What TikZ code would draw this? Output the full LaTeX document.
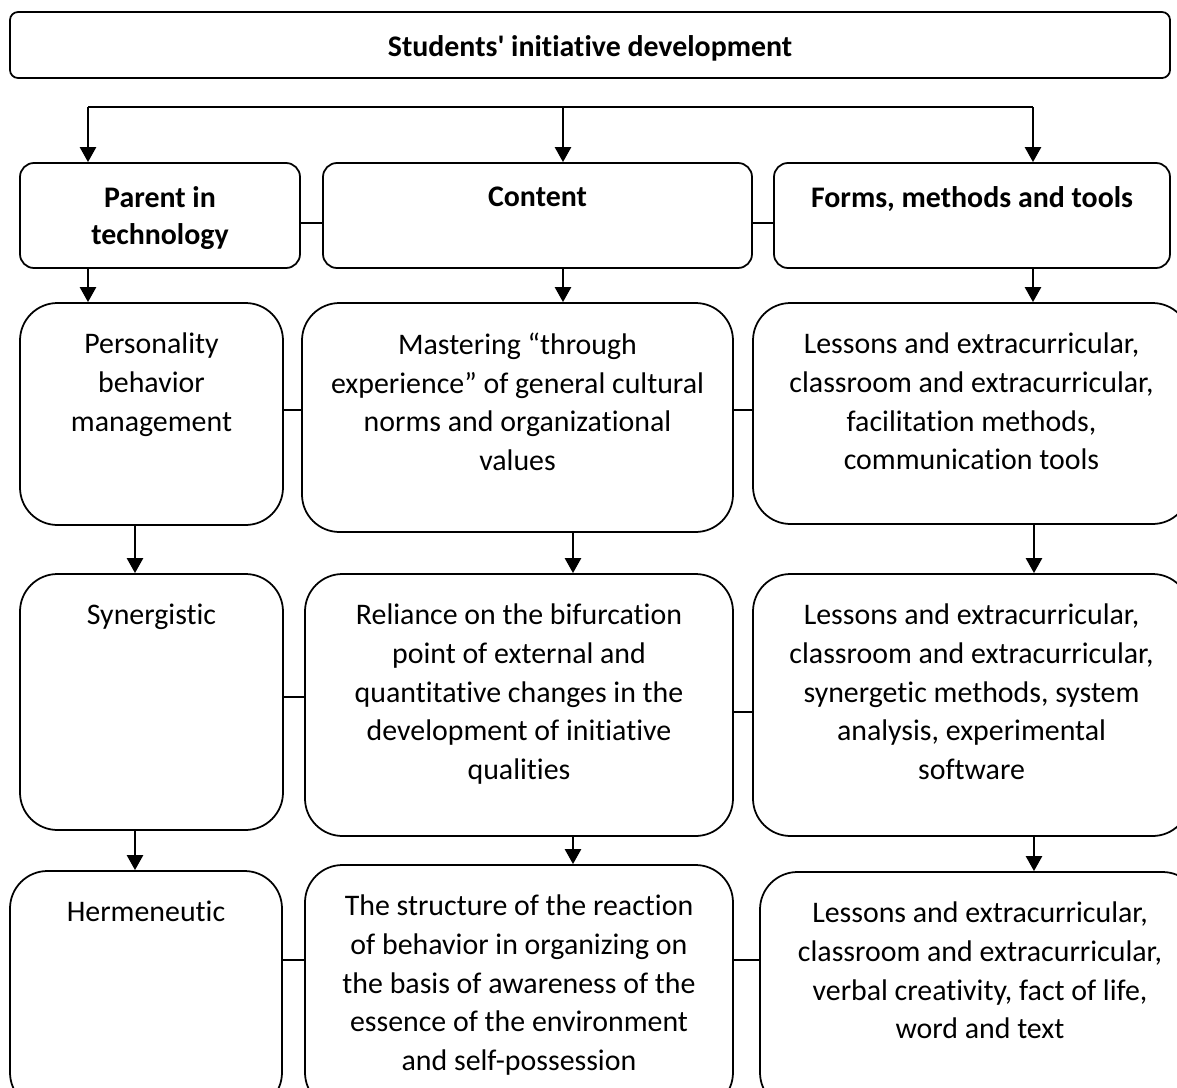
\documentclass[tikz,border=0pt]{standalone}
\usepackage{fontspec}
\setmainfont{Carlito}[Ligatures={NoCommon}]
\usepackage{tikz}
\usetikzlibrary{arrows.meta, positioning, calc}

\begin{document}
\begin{tikzpicture}
            [line width=1pt, font=\fontsize{17}{22}\selectfont,
            arr/.style={-{Triangle[length=0.3cm,width=0.32cm]}, line width=1.4pt},
            topbox/.style={rectangle, draw=black, rounded corners=0.16cm, inner sep=0pt},
            headbox/.style={rectangle, draw=black, rounded corners=0.28cm, inner sep=0pt},
            box/.style={rectangle, draw=black, rounded corners=0.75cm, inner sep=0pt},
            txt/.style={align=center, inner sep=0pt},
            headtxt/.style={txt, font=\fontsize{17}{21}\selectfont\bfseries}]
            \clip (0,0) rectangle (23.54,-21.76);
            \useasboundingbox (0,0) rectangle (23.54,-21.76);
            % top
            \node[topbox, minimum width=23.2cm, minimum height=1.32cm] (T) at (11.8,-0.9) {};
            \node[headtxt, yshift=-0.06cm] (tT) at (T) {Students\textquotesingle{} initiative development};
            % headers
            \node[headbox, minimum width=5.6cm, minimum height=2.1cm] (H1) at (3.2,-4.31) {};
            \node[headbox, minimum width=8.58cm, minimum height=2.1cm] (H2) at (10.75,-4.31) {};
            \node[headbox, minimum width=7.92cm, minimum height=2.1cm] (H3) at (19.44,-4.31) {};
            \node[headtxt, below=0.48cm of H1.north] (tH1) {Parent in\\technology};
            \node[headtxt, below=0.48cm of H2.north] (tH2) {Content};
            \node[headtxt, below=0.48cm of H3.north] (tH3) {Forms, methods and tools};
            % second row
            \node[box, minimum width=5.26cm, minimum height=4.44cm] (A1) at (3.03,-8.28) {};
            \node[box, minimum width=8.62cm, minimum height=4.58cm] (A2) at (10.35,-8.35) {};
            \node[box, minimum width=8.74cm, minimum height=4.42cm] (A3) at (19.43,-8.27) {};
            \node[txt, below=0.6cm of A1.north] (tA1) {Personality\\behavior\\management};
            \node[txt, below=0.6cm of A2.north] (tA2) {Mastering “through\\experience” of general cultural\\norms and organizational\\values};
            \node[txt, below=0.6cm of A3.north] (tA3) {Lessons and extracurricular,\\classroom and extracurricular,\\facilitation methods,\\communication tools};
            % third row
            \node[box, minimum width=5.26cm, minimum height=5.12cm] (B1) at (3.03,-14.04) {};
            \node[box, minimum width=8.56cm, minimum height=5.24cm] (B2) at (10.38,-14.1) {};
            \node[box, minimum width=8.74cm, minimum height=5.24cm] (B3) at (19.43,-14.1) {};
            \node[txt, below=0.6cm of B1.north] (tB1) {Synergistic};
            \node[txt, below=0.6cm of B2.north] (tB2) {Reliance on the bifurcation\\point of external and\\quantitative changes in the\\development of initiative\\qualities};
            \node[txt, below=0.6cm of B3.north] (tB3) {Lessons and extracurricular,\\classroom and extracurricular,\\synergetic methods, system\\analysis, experimental\\software};
            % fourth row
            \node[box, minimum width=5.44cm, minimum height=4.78cm] (C1) at (2.92,-19.81) {};
            \node[box, minimum width=8.56cm, minimum height=4.9cm] (C2) at (10.38,-19.75) {};
            \node[box, minimum width=8.8cm, minimum height=4.76cm] (C3) at (19.6,-19.82) {};
            \node[txt, below=0.6cm of C1.north] (tC1) {Hermeneutic};
            \node[txt, below=0.6cm of C2.north] (tC2) {The structure of the reaction\\of behavior in organizing on\\the basis of awareness of the\\essence of the environment\\and self-possession};
            \node[txt, below=0.6cm of C3.north] (tC3) {Lessons and extracurricular,\\classroom and extracurricular,\\verbal creativity, fact of life,\\word and text};
            % arrows
            \coordinate (busL) at (1.76,-2.14);
            \coordinate (busM) at (11.26,-2.14);
            \coordinate (busR) at (20.66,-2.14);
            \coordinate (colL) at (2.7,0);
            \coordinate (colM) at (11.46,0);
            \coordinate (colR) at (20.68,0);
            \draw (busL) -- (busR);
            \draw[arr] (busL) -- (H1.north -| busL);
            \draw[arr] (busM) -- (H2.north -| busM);
            \draw[arr] (busR) -- (H3.north -| busR);
            \draw[arr] (H1.south -| busL) -- (A1.north -| busL);
            \draw[arr] (H2.south -| busM) -- (A2.north -| busM);
            \draw[arr] (H3.south -| busR) -- (A3.north -| busR);
            \draw[arr] (A1.south -| colL) -- (B1.north -| colL);
            \draw[arr] (A2.south -| colM) -- (B2.north -| colM);
            \draw[arr] (A3.south -| colR) -- (B3.north -| colR);
            \draw[arr] (B1.south -| colL) -- (C1.north -| colL);
            \draw[arr] (B2.south -| colM) -- (C2.north -| colM);
            \draw[arr] (B3.south -| colR) -- (C3.north -| colR);
            % links
            \draw ([yshift=-0.15cm]H1.east) -- ([yshift=-0.15cm]H2.west);
            \draw ([yshift=-0.15cm]H2.east) -- ([yshift=-0.15cm]H3.west);
            \draw (A1.east |- 0,-8.2) -- (A2.west |- 0,-8.2);
            \draw (A2.east |- 0,-8.2) -- (A3.west |- 0,-8.2);
            \draw (B1.east |- 0,-13.94) -- (B2.west |- 0,-13.94);
            \draw (B2.east |- 0,-14.24) -- (B3.west |- 0,-14.24);
            \draw (C1.east |- 0,-19.2) -- (C2.west |- 0,-19.2);
            \draw (C2.east |- 0,-19.2) -- (C3.west |- 0,-19.2);
        \end{tikzpicture}
\end{document}
